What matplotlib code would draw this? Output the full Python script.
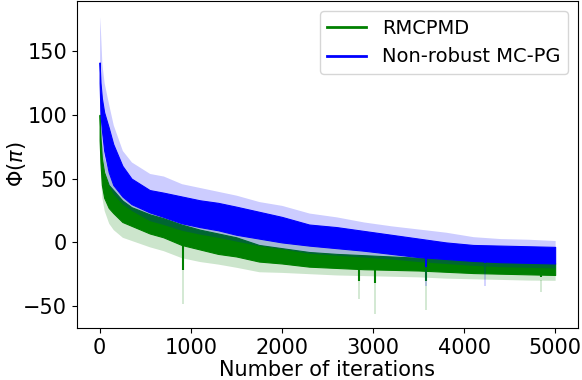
import numpy as np
import matplotlib
matplotlib.use("Agg")
import matplotlib.pyplot as plt
from matplotlib.lines import Line2D

iters = [0, 10, 25, 50, 100, 150, 250, 350, 550, 700, 900, 1100, 1300, 1500,
         1750, 2000, 2300, 2600, 2900, 3200, 3500, 3800, 4100, 4400, 4700, 5000]

# Non-robust MC-PG (blue): noisy mean line envelope and +-std band
blue_line_hi = [141, 125, 113, 102, 90, 77, 60, 50, 41, 39, 36, 33, 31, 28,
                24, 20, 14, 12, 9, 6, 3, 0, -2, -2.5, -3, -3.5]
blue_line_lo = [125, 100, 88, 72, 55, 45, 36, 30, 23.5, 20, 15, 12, 9.5, 6,
                3, 0, -2.5, -4.5, -6.5, -9, -11.5, -13, -14.5, -15.5, -16, -16.5]
blue_band_hi = [177, 165, 140, 125, 108, 92, 72, 63, 54, 52, 46, 43, 40, 37,
                32, 29, 23, 20, 16, 13, 10.5, 8, 4.5, 3, 2.5, 1.5]
blue_band_lo = [105, 85, 70, 58, 45, 38, 30, 25, 17, 14, 9.5, 6.5, 4, 1,
                -2.5, -5, -8.5, -10, -11.5, -13, -15, -16.5, -18, -19, -19.5, -20]

# RMCPMD (green)
green_line_hi = [100, 82, 66, 55, 45, 41, 32.8, 27.6, 22, 19, 14, 10, 7, 4,
                 -2, -4.5, -7.5, -9, -10, -11, -12, -13, -14.5, -15.5, -16, -16.5]
green_line_lo = [80, 62, 45, 35, 27, 23, 16, 13, 7, 4, -2, -5.5, -9, -11,
                 -15, -16.5, -19, -20, -21, -21.5, -22, -23, -24, -24.5, -25, -25.5]
green_band_hi = [110, 92, 78, 66, 55, 50, 40, 35, 29, 26, 20, 16, 13, 10,
                 4, 1.5, -1.5, -3, -4, -5, -6, -7, -8.5, -9.5, -10, -10.5]
green_band_lo = [70, 50, 35, 25, 15, 10, 4, 1.5, -3.5, -6.5, -12, -15, -17, -19.5,
                 -23, -23.5, -24.5, -25.5, -26, -26.5, -27, -28, -28.5, -29, -29.5, -29.7]

# isolated downward spikes: where they leave the curve and where they end
green_spike_iter = [915, 2850, 3025, 3578, 4840]
green_spike_line_top = [-2, -21, -21, -22, -25]
green_spike_line = [-22, -30, -32, -30, -27]
green_spike_band_top = [-12, -26, -26, -27, -29.7]
green_spike_band = [-48, -44, -56, -53, -39]
blue_spike_iter = [3578, 4230]
blue_spike_line_top = [-12, -15]
blue_spike_line = [-19, -16]
blue_spike_band_top = [-15, -18.5]
blue_spike_band = [-34, -34]

fig = plt.figure(figsize=(5.82, 3.8), dpi=100)
ax = fig.add_axes([0.132, 0.137, 0.861, 0.86])

ax.fill_between(iters, green_band_lo, green_band_hi, color="green", alpha=0.2, lw=0)
ax.vlines(green_spike_iter, green_spike_band_top, green_spike_band, color="green", alpha=0.2, lw=1.2)
ax.fill_between(iters, green_line_lo, green_line_hi, color="green", lw=0.8)
ax.vlines(green_spike_iter, green_spike_line_top, green_spike_line, color="green", lw=1.5)

ax.fill_between(iters, blue_band_lo, blue_band_hi, color="blue", alpha=0.2, lw=0)
ax.vlines(blue_spike_iter, blue_spike_band_top, blue_spike_band, color="blue", alpha=0.2, lw=1.2)
ax.fill_between(iters, blue_line_lo, blue_line_hi, color="blue", lw=0.8)
ax.vlines(blue_spike_iter, blue_spike_line_top, blue_spike_line, color="blue", lw=1.5)

ax.set_xlim(-250, 5250)
ax.set_ylim(-67, 189)
ax.set_xticks([0, 1000, 2000, 3000, 4000, 5000])
ax.set_yticks([-50, 0, 50, 100, 150])
ax.tick_params(labelsize=15)
ax.set_xlabel("Number of iterations", fontsize=15, labelpad=2)
ax.set_ylabel(r"$\Phi(\pi)$", fontsize=15)
ax.yaxis.set_label_coords(-0.098, 0.5)

handles = [Line2D([], [], color="green", lw=2), Line2D([], [], color="blue", lw=2)]
ax.legend(handles, ["RMCPMD", "Non-robust MC-PG"], loc="upper right", fontsize=14)

fig.savefig("out.png", dpi=100)
